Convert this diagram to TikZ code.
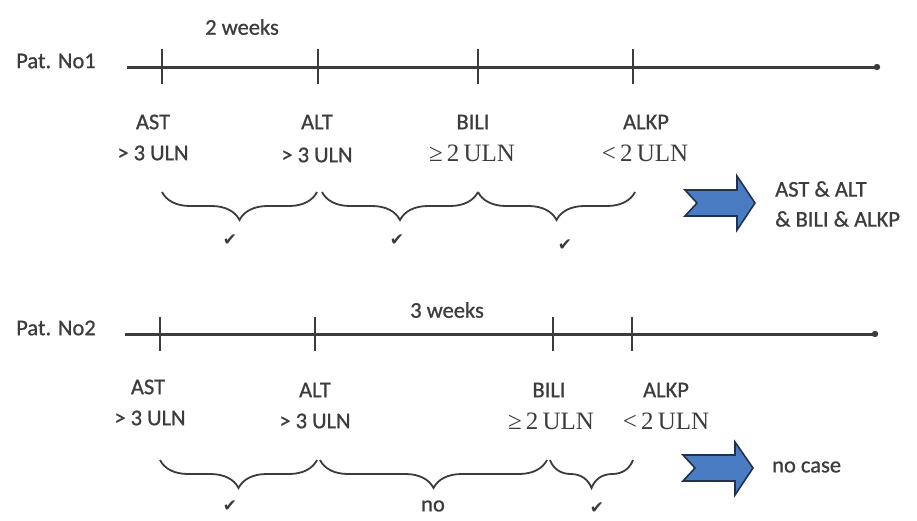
\documentclass[tikz,border=0pt]{standalone}
\usepackage{fontspec}
\setmainfont{Carlito}[FakeBold=0.8]
\newfontfamily\ulnfont{Liberation Serif}
\newfontfamily\symfont{DejaVu Sans}
\usetikzlibrary{decorations.pathreplacing}
\definecolor{ink}{RGB}{60,60,60}
\definecolor{arrowblue}{RGB}{74,124,196}
\definecolor{arrowedge}{RGB}{35,50,75}
\begin{document}
\begin{tikzpicture}[x=1pt,y=-1pt,
 lbl/.style={font=\fontsize{22.5}{26}\selectfont, text=ink, inner sep=0pt},
 uln/.style={font=\fontsize{25}{28}\selectfont\ulnfont, text=ink, inner sep=0pt},
 timeline/.style={line width=3pt, draw=ink},
 tickmark/.style={line width=2.2pt, draw=ink},
 bracestyle/.style={decorate, decoration={brace, mirror, amplitude=28pt}, line width=1.8pt, draw=ink},
 chk/.style={font=\fontsize{17}{19}\selectfont\symfont, text=ink, inner sep=0pt},
 blockarrow/.style={fill=arrowblue, draw=arrowedge, line width=1.6pt, line join=miter}
]
\useasboundingbox (0,0) rectangle (917,520);

% ---------- Patient 1 ----------
\node[lbl] (p1) at (56,61) {Pat. No1};
\node[lbl] (w1) at (242,27) {2 weeks};
\coordinate (s1) at (127,67);
\coordinate (e1) at (877,67);
\draw[timeline] (s1) -- (e1);
\fill[ink] (e1) circle (3.2pt);
\coordinate (t1a) at (162,67);
\coordinate (t1b) at (318,67);
\coordinate (t1c) at (478,67);
\coordinate (t1d) at (633,67);
\foreach \t in {t1a,t1b,t1c,t1d}{
  \draw[tickmark] ([yshift=-17pt]\t) -- ([yshift=18pt]\t);
}
\node[lbl] (ast1) at (153,122) {AST};
\node[lbl] (ast1v) at (153,153) {> 3 ULN};
\node[lbl] (alt1) at (317,122) {ALT};
\node[lbl] (alt1v) at (317,155) {> 3 ULN};
\node[lbl] (bili1) at (473,122) {BILI};
\node[uln] (bili1v) at (472,153) {≥\,2\,ULN};
\node[lbl] (alkp1) at (646,122) {ALKP};
\node[uln] (alkp1v) at (645,153) {<\,2\,ULN};

\coordinate (b1a) at (162,192);
\coordinate (b1b) at (317,192);
\coordinate (b1c) at (322,192);
\coordinate (b1d) at (478,192);
\coordinate (b1e) at (478,192);
\coordinate (b1f) at (635,192);
\draw[bracestyle] (b1a) -- (b1b);
\draw[bracestyle] (b1c) -- (b1d);
\draw[bracestyle] (b1e) -- (b1f);
\node[chk] (c1a) at (230,240) {✔};
\node[chk] (c1b) at (397,240) {✔};
\node[chk] (c1c) at (565,245) {✔};

\draw[blockarrow] (685,190) -- (737,190) -- (737,176) -- (755,203) -- (737,230) -- (737,216) -- (685,216) -- (697,203) -- cycle;
\node[lbl, anchor=west] (r1a) at (775,189) {AST \& ALT};
\node[lbl, anchor=west] (r1b) at (775,219) {\& BILI \& ALKP};

% ---------- Patient 2 ----------
\node[lbl] (p2) at (56,328) {Pat. No2};
\node[lbl] (w2) at (447,310) {3 weeks};
\coordinate (s2) at (125,334);
\coordinate (e2) at (875,334);
\draw[timeline] (s2) -- (e2);
\fill[ink] (e2) circle (3.2pt);
\coordinate (t2a) at (160,334);
\coordinate (t2b) at (315,334);
\coordinate (t2c) at (553,334);
\coordinate (t2d) at (632,334);
\foreach \t in {t2a,t2b,t2c,t2d}{
  \draw[tickmark] ([yshift=-17pt]\t) -- ([yshift=17pt]\t);
}
\node[lbl] (ast2) at (148,387) {AST};
\node[lbl] (ast2v) at (150,418) {> 3 ULN};
\node[lbl] (alt2) at (315,390) {ALT};
\node[lbl] (alt2v) at (315,421) {> 3 ULN};
\node[lbl] (bili2) at (549,390) {BILI};
\node[uln] (bili2v) at (551,421) {≥\,2\,ULN};
\node[lbl] (alkp2) at (666,390) {ALKP};
\node[uln] (alkp2v) at (666,421) {<\,2\,ULN};

\coordinate (b2a) at (160,460);
\coordinate (b2b) at (317,460);
\coordinate (b2c) at (320,460);
\coordinate (b2d) at (547,460);
\coordinate (b2e) at (550,460);
\coordinate (b2f) at (633,460);
\draw[bracestyle] (b2a) -- (b2b);
\draw[bracestyle] (b2c) -- (b2d);
\draw[bracestyle] (b2e) -- (b2f);
\node[chk] (c2a) at (230,506) {✔};
\node[lbl] (no2) at (433,506) {no};
\node[chk] (c2c) at (597,508) {✔};

\draw[blockarrow] (683,455) -- (735,455) -- (735,442) -- (753,468) -- (735,495) -- (735,481) -- (683,481) -- (695,468) -- cycle;
\node[lbl, anchor=west] (r2) at (772,467) {no case};
\end{tikzpicture}
\end{document}
